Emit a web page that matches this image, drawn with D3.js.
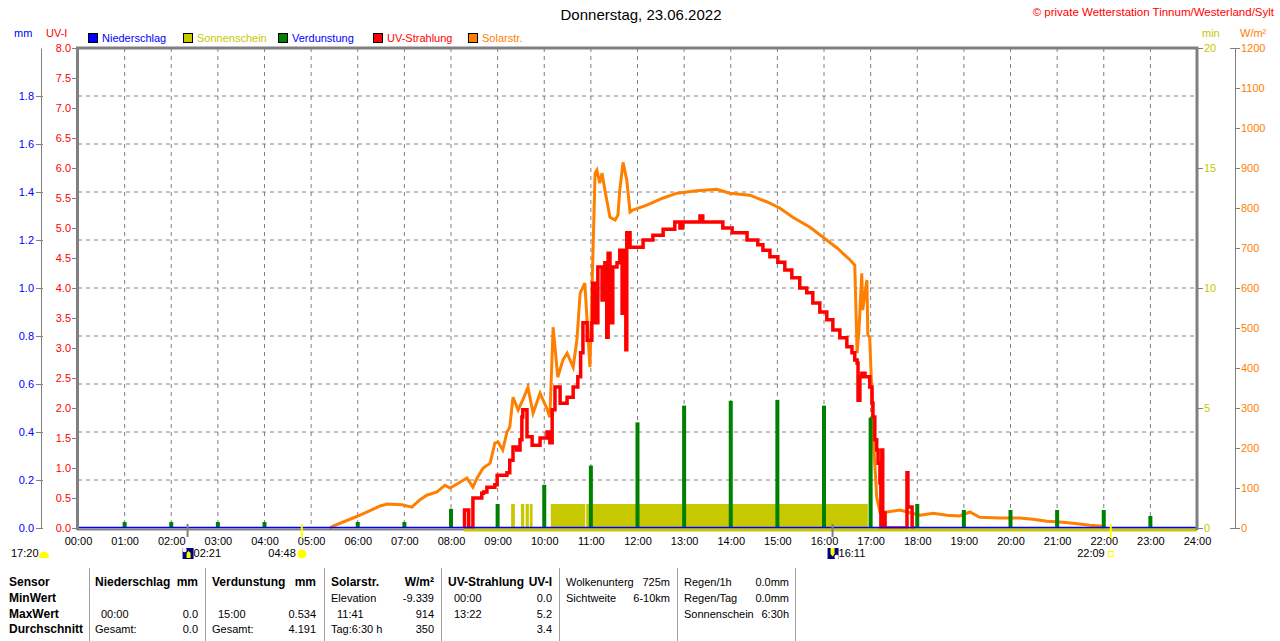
<!DOCTYPE html>
<html>
<head>
<meta charset="utf-8">
<script src="https://cdn.jsdelivr.net/npm/d3@7"></script>
<style>
  body { margin: 0; background: #fff; }
  svg { display: block; font-family: "Liberation Sans", Arial, sans-serif; }
</style>
</head>
<body>
<div id="chart"></div>
<script>
// ---------------------------
// Data
// ---------------------------
const title = "Donnerstag, 23.06.2022";
const copyright = "\u00a9 private Wetterstation Tinnum/Westerland/Sylt";

const hourTicks = [0,1,2,3,4,5,6,7,8,9,10,11,12,13,14,15,16,17,18,19,20,21,22,23,24];
const mmTicks = [0, 0.2, 0.4, 0.6, 0.8, 1.0, 1.2, 1.4, 1.6, 1.8];
const uvTicks = [0,0.5,1,1.5,2,2.5,3,3.5,4,4.5,5,5.5,6,6.5,7,7.5,8];
const sunTicks = [0, 5, 10, 15, 20];
const solarTicks = [0,100,200,300,400,500,600,700,800,900,1000,1100,1200];

const legendNames = ["Niederschlag", "Sonnenschein", "Verdunstung", "UV-Strahlung", "Solarstr."];

// solar radiation W/m², [hour, value]
const solar = [
  [5.40,0],[5.47,5],[5.90,25],[6.05,32],[6.48,55],[6.63,60],[6.95,58],[7.16,52],[7.33,70],[7.48,82],
  [7.70,90],[7.87,107],[7.98,100],[8.13,110],[8.34,125],[8.47,102],[8.56,125],[8.69,150],[8.84,162],
  [8.94,212],[9.01,215],[9.11,195],[9.20,240],[9.26,252],[9.33,327],[9.44,295],[9.54,320],[9.65,352],
  [9.76,287],[9.91,337],[10.05,300],[10.12,277],[10.19,502],[10.29,377],[10.40,420],[10.49,437],[10.62,402],
  [10.70,470],[10.77,587],[10.87,612],[10.98,402],[11.09,887],[11.13,895],[11.19,862],[11.24,887],
  [11.30,845],[11.41,777],[11.52,770],[11.58,782],[11.62,845],[11.69,914],[11.77,870],[11.84,790],
  [11.90,795],[12.20,807],[12.55,825],[12.85,837],[13.27,843],[13.70,847],[13.98,837],[14.41,832],
  [14.78,815],[15.05,800],[15.33,777],[15.70,752],[15.98,727],[16.28,700],[16.56,670],[16.66,657],
  [16.71,437],[16.75,495],[16.81,637],[16.83,545],[16.92,620],[16.94,482],[16.98,477],[17.03,327],
  [17.07,202],[17.13,77],[17.20,40],[17.35,40],[17.63,45],[17.84,38],[18.06,32],[18.34,37],[18.64,32],
  [18.91,30],[19.13,40],[19.34,27],[19.77,25],[20.20,25],[20.48,22],[20.78,17],[21.06,15],[21.34,12],
  [21.70,7],[21.92,5],[22.02,0]
];

// UV index, [hour, value]
const uv = [
  [8.28,0],[8.29,0.3],[8.38,0],[8.47,0.5],[8.66,0.58],[8.70,0.6],[8.77,0.68],[8.94,0.72],[8.99,0.88],
  [9.20,0.92],[9.26,1.13],[9.33,1.35],[9.41,1.3],[9.48,1.47],[9.52,1.85],[9.54,1.97],[9.63,1.52],
  [9.74,1.38],[9.91,1.5],[10.06,1.6],[10.12,1.42],[10.17,1.97],[10.23,2.35],[10.34,2.08],[10.49,2.18],
  [10.62,2.35],[10.72,2.52],[10.78,2.92],[10.83,3.42],[10.92,3.13],[11.02,3.42],[11.04,4.08],[11.08,3.42],
  [11.15,4.35],[11.24,3.8],[11.30,4.42],[11.34,3.18],[11.37,4.58],[11.41,3.42],[11.47,4.35],[11.56,4.42],
  [11.62,4.63],[11.67,3.58],[11.71,4.63],[11.75,2.97],[11.77,4.92],[11.84,4.68],[12.12,4.8],[12.33,4.88],
  [12.55,4.98],[12.80,5.1],[12.91,5.0],[12.97,5.1],[13.34,5.2],[13.40,5.1],[13.83,5.0],[14.03,4.92],
  [14.35,4.8],[14.58,4.72],[14.69,4.63],[14.84,4.52],[15.01,4.43],[15.16,4.3],[15.31,4.17],[15.48,4.0],
  [15.63,3.92],[15.76,3.75],[15.91,3.6],[16.06,3.47],[16.19,3.3],[16.34,3.17],[16.49,3.02],[16.60,2.92],
  [16.66,2.8],[16.71,2.75],[16.73,2.13],[16.77,2.52],[16.81,2.58],[16.88,2.52],[16.98,2.35],[17.03,2.08],
  [17.05,1.85],[17.09,1.47],[17.13,1.3],[17.16,1.08],[17.20,0.75],[17.22,0],[17.24,1.3],[17.26,0.25],
  [17.31,0],[17.78,0.92],[17.80,0.35],[17.89,0],[17.95,0]
];

// evaporation mm per hour
const evapHours = [1,2,3,4,6,7,8,9,10,11,12,13,14,15,16,17,18,19,20,21,22,23];
const evapValues = [0.025,0.025,0.025,0.025,0.025,0.025,0.08,0.1,0.18,0.26,0.44,0.51,0.53,0.534,0.51,0.46,0.1,0.075,0.075,0.075,0.075,0.05];

// sunshine (min per minute) intervals [start hour, end hour]
const sunStart = [9.29, 9.50, 9.60, 9.69, 10.14, 10.90];
const sunEnd   = [9.37, 9.57, 9.67, 9.75, 10.88, 16.94];
const sunValue = 1;
const sunLineFrom = 8.27;

// astro events below axis
const dayLength = "17:20";
const astroLabels = ["02:21", "04:48", "16:11", "22:09"];
const astroTimes = [2 + 21/60, 4 + 48/60, 16 + 11/60, 22 + 9/60];
const astroTypes = ["moonrise", "sunrise", "moonset", "sunset"];

// table
const tableRows = ["Sensor", "MinWert", "MaxWert", "Durchschnitt"];
const tableHeads = [["Niederschlag", "mm"], ["Verdunstung", "mm"], ["Solarstr.", "W/m\u00b2"], ["UV-Strahlung", "UV-I"]];
const tableLabels = [["", "00:00", "Gesamt:"], ["", "15:00", "Gesamt:"], ["Elevation", "11:41", "Tag:6:30 h"], ["00:00", "13:22", ""]];
const tableValues = [["", "0.0", "0.0"], ["", "0.534", "4.191"], ["-9.339", "914", "350"], ["0.0", "5.2", "3.4"]];
const extraLabels = [["Wolkenunterg", "Sichtweite"], ["Regen/1h", "Regen/Tag", "Sonnenschein"]];
const extraValues = [["725m", "6-10km"], ["0.0mm", "0.0mm", "6:30h"]];

// ---------------------------
// Setup
// ---------------------------
const width = 1280, height = 641;
const col = { blue: "#0000ff", yellow: "#c8c800", green: "#008000", red: "#ff0000", orange: "#ff8000", gray: "#808080", navy: "#000080" };
const legendColors = [col.blue, col.yellow, col.green, col.red, col.orange];
const legendText = [col.blue, col.yellow, col.blue, col.red, col.orange];

const plotL = 78, plotR = 1197, plotT = 48, plotB = 528;

const x = d3.scaleLinear().domain([0, 24]).range([plotL, plotR]);
const yUV = d3.scaleLinear().domain([0, 8]).range([plotB, plotT]);
const yMM = d3.scaleLinear().domain([0, 2]).range([plotB, plotT]);
const ySun = d3.scaleLinear().domain([0, 20]).range([plotB, plotT]);
const ySolar = d3.scaleLinear().domain([0, 1200]).range([plotB, plotT]);

const svg = d3.select("#chart").append("svg")
  .attr("width", width).attr("height", height)
  .attr("viewBox", [0, 0, width, height]);

// ---------------------------
// Header
// ---------------------------
svg.append("text").attr("x", 641).attr("y", 20).attr("text-anchor", "middle")
  .attr("font-size", 15).text(title);
svg.append("text").attr("x", 1274).attr("y", 16).attr("text-anchor", "end")
  .attr("font-size", 11.5).attr("fill", col.red).text(copyright);

svg.append("text").attr("x", 14).attr("y", 37).attr("font-size", 11).attr("fill", col.blue).text("mm");
svg.append("text").attr("x", 46).attr("y", 37).attr("font-size", 11).attr("fill", col.red).text("UV-I");
svg.append("text").attr("x", 1202).attr("y", 37).attr("font-size", 11).attr("fill", col.yellow).text("min");
svg.append("text").attr("x", 1240).attr("y", 37).attr("font-size", 11).attr("fill", col.orange).text("W/m\u00b2");

// legend
const legend = svg.append("g").selectAll("g")
  .data(legendNames)
  .join("g")
  .attr("transform", (d, i) => `translate(${88 + i * 95},33)`);
legend.append("rect").attr("x", 0.5).attr("y", 0.5).attr("width", 9).attr("height", 9)
  .attr("fill", (d, i) => legendColors[i]).attr("stroke", "#000");
legend.append("text").attr("x", 14).attr("y", 9).attr("font-size", 11)
  .attr("fill", (d, i) => legendText[i]).text(d => d);

// ---------------------------
// Grid
// ---------------------------
const grid = svg.append("g").attr("stroke", col.gray).attr("stroke-dasharray", "4,4");
grid.selectAll("line.v").data(hourTicks.slice(1, -1)).join("line")
  .attr("x1", d => x(d)).attr("x2", d => x(d)).attr("y1", plotT).attr("y2", plotB);
grid.selectAll("line.h").data(mmTicks.slice(1)).join("line")
  .attr("x1", plotL).attr("x2", plotR).attr("y1", d => yMM(d)).attr("y2", d => yMM(d));

// ---------------------------
// Marks
// ---------------------------
svg.append("g").selectAll("rect")
  .data(sunStart)
  .join("rect")
  .attr("x", d => x(d))
  .attr("width", (d, i) => x(sunEnd[i]) - x(d))
  .attr("y", ySun(sunValue))
  .attr("height", plotB - ySun(sunValue))
  .attr("fill", col.yellow);

svg.append("path")
  .datum(solar)
  .attr("fill", "none").attr("stroke", col.orange).attr("stroke-width", 3)
  .attr("d", d3.line().x(d => x(d[0])).y(d => ySolar(d[1])));

svg.append("path")
  .datum(uv)
  .attr("fill", "none").attr("stroke", col.red).attr("stroke-width", 3.5)
  .attr("d", d3.line().curve(d3.curveStepAfter).x(d => x(d[0])).y(d => yUV(d[1])));

svg.append("g").selectAll("rect")
  .data(evapHours)
  .join("rect")
  .attr("x", d => x(d) - 2)
  .attr("width", 4)
  .attr("y", (d, i) => yMM(evapValues[i]))
  .attr("height", (d, i) => plotB - yMM(evapValues[i]))
  .attr("fill", col.green);

// ---------------------------
// Frame + base lines
// ---------------------------
svg.append("line").attr("x1", plotL - 1).attr("x2", plotR).attr("y1", plotB + 1.5).attr("y2", plotB + 1.5)
  .attr("stroke", col.gray).attr("stroke-width", 2);
svg.append("line").attr("x1", x(sunLineFrom)).attr("x2", plotR).attr("y1", plotB + 2).attr("y2", plotB + 2)
  .attr("stroke", col.yellow).attr("stroke-width", 3);
svg.append("line").attr("x1", plotL).attr("x2", plotR).attr("y1", plotB - 0.5).attr("y2", plotB - 0.5)
  .attr("stroke", col.blue).attr("stroke-width", 1.5);

const frame = svg.append("g").attr("stroke", col.gray).attr("stroke-width", 3).attr("fill", "none");
frame.append("path").attr("d", `M${plotL - 0.5},${plotB + 2}V${plotT}H${plotR}V${plotB + 2}`);

// ---------------------------
// Axes
// ---------------------------
function styleAxis(g, color) {
  g.attr("font-family", null).attr("font-size", 11);
  g.selectAll(".tick line").attr("stroke", col.gray);
  g.selectAll(".tick text").attr("fill", color);
  g.select(".domain").attr("stroke", col.gray);
}

const mmAxis = svg.append("g").attr("transform", "translate(41,0)")
  .call(d3.axisLeft(yMM).tickValues(mmTicks).tickFormat(d3.format(".1f")).tickSize(5).tickSizeOuter(0).tickPadding(2))
  .call(g => styleAxis(g, col.blue));
mmAxis.selectAll(".tick line").attr("x2", -5).attr("x1", 2);

svg.append("g").attr("transform", `translate(${plotL - 1},0)`)
  .call(d3.axisLeft(yUV).tickValues(uvTicks).tickFormat(d3.format(".1f")).tickSize(5).tickPadding(1))
  .call(g => styleAxis(g, col.red))
  .call(g => g.select(".domain").remove());

svg.append("g").attr("transform", `translate(${plotR + 1},0)`)
  .call(d3.axisRight(ySun).tickValues(sunTicks).tickSize(5).tickPadding(1))
  .call(g => styleAxis(g, col.yellow))
  .call(g => g.select(".domain").remove());

const solarAxis = svg.append("g").attr("transform", "translate(1235,0)")
  .call(d3.axisRight(ySolar).tickValues(solarTicks).tickFormat(d3.format("d")).tickSize(5).tickSizeOuter(0).tickPadding(1))
  .call(g => styleAxis(g, col.orange));
solarAxis.selectAll(".cap").data([plotT, plotB]).join("line").attr("class", "cap")
  .attr("x1", -5).attr("x2", 0).attr("y1", d => d + 0.5).attr("y2", d => d + 0.5).attr("stroke", col.gray);

svg.append("g").attr("transform", `translate(0,${plotB})`)
  .call(d3.axisBottom(x).tickValues(hourTicks).tickFormat(d => String(d).padStart(2, "0") + ":00").tickSize(0).tickPadding(9))
  .call(g => styleAxis(g, "#000"))
  .call(g => g.select(".domain").remove());

// ---------------------------
// Astro annotations
// ---------------------------
const astro = svg.append("g").attr("font-size", 11);
astro.append("text").attr("x", 11).attr("y", 557).text(dayLength);
astro.append("path").attr("d", "M39,558 Q39,552 44,551.5 Q49,552 49,558 Z").attr("fill", "#ffff00");

astroTimes.forEach((t, i) => {
  const px = x(t);
  const type = astroTypes[i];
  if (type === "moonrise" || type === "moonset") {
    astro.append("line").attr("x1", px).attr("x2", px).attr("y1", 524).attr("y2", 537)
      .attr("stroke", col.gray).attr("stroke-width", 2);
    astro.append("rect").attr("x", px - 5).attr("y", 548).attr("width", 11).attr("height", 11).attr("fill", col.navy);
    const up = type === "moonrise";
    astro.append("circle").attr("cx", up ? px - 3 : px + 4).attr("cy", up ? 550 : 557).attr("r", 2.2).attr("fill", "#fff");
    astro.append("path")
      .attr("d", up ? `M${px - 1},558V553L${px + 1},551L${px + 3},553V558Z` : `M${px - 2},548V554L${px},556.5L${px + 2},554V548Z`)
      .attr("fill", "#ffff00");
    astro.append("text").attr("x", px + 6).attr("y", 557).text(astroLabels[i]);
  } else {
    astro.append("line").attr("x1", px).attr("x2", px).attr("y1", 524).attr("y2", 538)
      .attr("stroke", "#ffff00").attr("stroke-width", 2);
    if (type === "sunrise") {
      astro.append("circle").attr("cx", px).attr("cy", 554).attr("r", 4.5).attr("fill", "#ffff00");
    } else {
      astro.append("rect").attr("x", px - 2.5).attr("y", 551.5).attr("width", 5).attr("height", 5)
        .attr("fill", "none").attr("stroke", "#ffff00").attr("stroke-width", 1);
    }
    astro.append("text").attr("x", px - 6).attr("y", 557).attr("text-anchor", "end").text(astroLabels[i]);
  }
});

// ---------------------------
// Table
// ---------------------------
const rowY = [586, 602, 618, 633];
const sepX = [89, 205, 324, 441, 559, 677, 795];
const groupX = [[95, 198], [212, 316], [331, 434], [448, 552]];
const extraX = [[566, 670], [684, 789]];

const table = svg.append("g").attr("font-size", 11);
table.selectAll("line").data(sepX).join("line")
  .attr("x1", d => d + 0.5).attr("x2", d => d + 0.5).attr("y1", 568).attr("y2", 641)
  .attr("stroke", "#a0a0a0");

table.selectAll("text.row").data(tableRows).join("text").attr("class", "row")
  .attr("x", 9).attr("y", (d, i) => rowY[i]).attr("font-weight", "bold").attr("font-size", 12).text(d => d);

tableHeads.forEach((h, g) => {
  table.append("text").attr("x", groupX[g][0]).attr("y", rowY[0])
    .attr("font-weight", "bold").attr("font-size", 12).text(h[0]);
  table.append("text").attr("x", groupX[g][1]).attr("y", rowY[0]).attr("text-anchor", "end")
    .attr("font-weight", "bold").attr("font-size", 12).text(h[1]);
  tableLabels[g].forEach((t, r) => {
    const indent = /^\d\d:\d\d$/.test(t) ? 6 : 0;
    table.append("text").attr("x", groupX[g][0] + indent).attr("y", rowY[r + 1]).text(t);
  });
  tableValues[g].forEach((t, r) => {
    table.append("text").attr("x", groupX[g][1]).attr("y", rowY[r + 1]).attr("text-anchor", "end").text(t);
  });
});

extraLabels.forEach((labels, g) => {
  labels.forEach((t, r) => {
    table.append("text").attr("x", extraX[g][0]).attr("y", rowY[r]).text(t);
    table.append("text").attr("x", extraX[g][1]).attr("y", rowY[r]).attr("text-anchor", "end").text(extraValues[g][r]);
  });
});
</script>
</body>
</html>
